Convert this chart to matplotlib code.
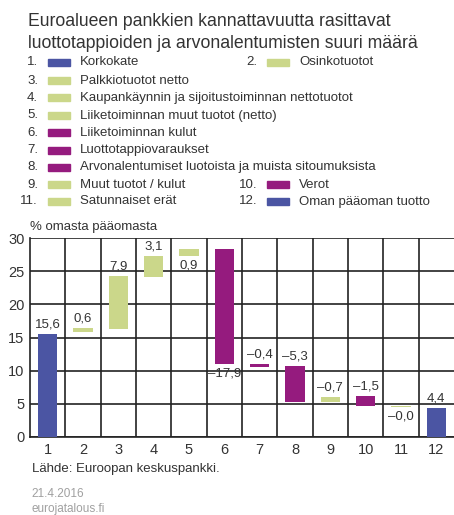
import matplotlib.pyplot as plt

plt.rcParams['font.family'] = ['Liberation Sans', 'DejaVu Sans']

# data
categories = ['1', '2', '3', '4', '5', '6', '7', '8', '9', '10', '11', '12']
names = ['Korkokate', 'Osinkotuotot', 'Palkkiotuotot netto',
         'Kaupankäynnin ja sijoitustoiminnan nettotuotot',
         'Liiketoiminnan muut tuotot (netto)', 'Liiketoiminnan kulut',
         'Luottotappiovaraukset',
         'Arvonalentumiset luotoista ja muista sitoumuksista',
         'Muut tuotot / kulut', 'Verot', 'Satunnaiset erät',
         'Oman pääoman tuotto']
values = [15.6, 0.6, 7.9, 3.1, 0.9, -17.9, -0.4, -5.3, -0.7, -1.5, -0.0, 4.4]
bar_low = [0.0, 15.8, 16.3, 24.1, 27.3, 11.0, 10.6, 5.3, 5.3, 4.6, 4.5, 0.0]
bar_high = [15.5, 16.5, 24.3, 27.3, 28.4, 28.4, 11.0, 10.7, 6.0, 6.2, 4.65, 4.4]
groups = ['a', 'b', 'b', 'b', 'b', 'c', 'c', 'c', 'b', 'c', 'b', 'a']
label_below = [False, False, False, False, True, True, False, False, False, False, True, False]

colors = {'a': '#4b55a3', 'b': '#cbd78a', 'c': '#951b7e'}
txt = '#333333'

fig = plt.figure(figsize=(4.54, 5.15), dpi=100)
ax = fig.add_axes([30 / 454, 78 / 515, 424 / 454, 199 / 515])

x = list(range(1, 13))
heights = [h - l for h, l in zip(bar_high, bar_low)]
ax.bar(x, heights, bottom=bar_low, width=0.55,
       color=[colors[g] for g in groups], zorder=3)

for xi, v, lo, hi, below in zip(x, values, bar_low, bar_high, label_below):
    s = f'{abs(v):.1f}'.replace('.', ',')
    if v < 0 or (v == 0 and below):
        s = '–' + s
    if below:
        ax.text(xi, lo - 0.5, s, ha='center', va='top', fontsize=9.5, color=txt)
    else:
        ax.text(xi, hi + 0.5, s, ha='center', va='bottom', fontsize=9.5, color=txt)

ax.set_xlim(0.5, 12.5)
ax.set_ylim(0, 30)
ax.set_xticks(x)
ax.set_xticklabels(categories)
ax.set_xticks([i + 0.5 for i in range(1, 12)], minor=True)
ax.set_yticks([0, 5, 10, 15, 20, 25, 30])
ax.grid(axis='y', which='major', color='#222222', lw=1.2, zorder=1)
ax.grid(axis='x', which='minor', color='#222222', lw=1.2, zorder=1)
ax.tick_params(which='both', length=0, labelsize=10.5, colors=txt, pad=4)
for sp in ['top', 'right']:
    ax.spines[sp].set_visible(False)
for sp in ['left', 'bottom']:
    ax.spines[sp].set_color('#222222')
    ax.spines[sp].set_linewidth(1.2)

fig.text(28 / 454, 1 - 21 / 515, 'Euroalueen pankkien kannattavuutta rasittavat',
         fontsize=12.7, color=txt, va='center')
fig.text(28 / 454, 1 - 43 / 515, 'luottotappioiden ja arvonalentumisten suuri määrä',
         fontsize=12.7, color=txt, va='center')

# legend, two columns in places
rows_y = [62, 80.5, 98, 115.5, 132.5, 150, 167, 184.5, 201.5]
layout = [(0, 0, 0), (1, 0, 1), (2, 1, 0), (3, 2, 0), (4, 3, 0), (5, 4, 0),
          (6, 5, 0), (7, 6, 0), (8, 7, 0), (9, 7, 1), (10, 8, 0), (11, 8, 1)]
col_num_x = [38, 257]
for idx, row, col in layout:
    y = 1 - rows_y[row] / 515
    nx = col_num_x[col]
    fig.text(nx / 454, y, f'{idx + 1}.', ha='right', va='center', fontsize=9.5, color=txt)
    fig.patches.append(plt.Rectangle(((nx + 10) / 454, y - 3.5 / 515), 22 / 454, 7 / 515,
                                     transform=fig.transFigure, color=colors[groups[idx]]))
    fig.text((nx + 42) / 454, y, names[idx], ha='left', va='center', fontsize=9.5, color=txt)

fig.text(30 / 454, 1 - 227 / 515, '% omasta pääomasta', fontsize=9.5, color=txt, va='center')
fig.text(32 / 454, 1 - 469 / 515, 'Lähde: Euroopan keskuspankki.', fontsize=9.5, color=txt, va='center')
fig.text(31 / 454, 1 - 494 / 515, '21.4.2016', fontsize=8.5, color='#a0a0a0', va='center')
fig.text(31 / 454, 1 - 509 / 515, 'eurojatalous.fi', fontsize=8.5, color='#a0a0a0', va='center')

fig.savefig('out.png', dpi=100)
